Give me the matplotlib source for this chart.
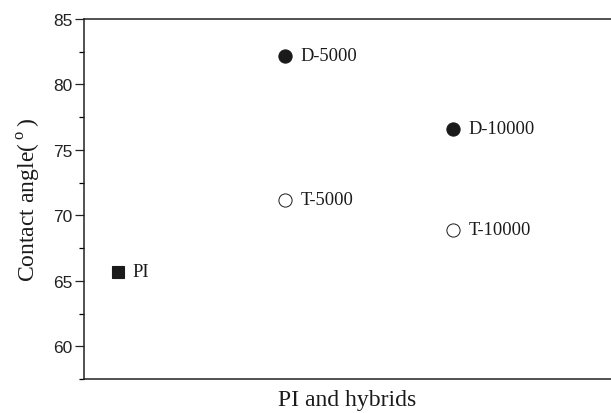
import matplotlib
matplotlib.use("Agg")
import matplotlib.pyplot as plt
from matplotlib.ticker import MultipleLocator, NullLocator

# Water contact angle of PI and its hybrids
samples = ["PI", "D-5000", "T-5000", "D-10000", "T-10000"]
positions = [1, 2, 2, 3, 3]
angles = [65.7, 82.2, 71.2, 76.6, 68.9]
markers = ["s", "o", "o", "o", "o"]
filled = [True, True, False, True, False]

plt.rcParams["mathtext.fontset"] = "custom"
plt.rcParams["mathtext.rm"] = "Liberation Serif"

fig = plt.figure(figsize=(6.11, 4.14), dpi=100)
ax = fig.add_axes([0.1375, 0.0821, 0.8625, 0.8696])

for name, x, y, m, f in zip(samples, positions, angles, markers, filled):
    ax.plot([x], [y], linestyle="none", marker=m,
            markersize=8.5 if m == "s" else 9.5,
            markerfacecolor="#1a1a1a" if f else "white",
            markeredgecolor="#1a1a1a", markeredgewidth=0.8 if f else 0.7)
    ax.annotate(name, (x, y), xytext=(11, 0), textcoords="offset points",
                va="center", ha="left", fontsize=13.3,
                family="Liberation Serif", color="#1a1a1a")

ax.set_xlim(0.8, 3.94)
ax.set_ylim(57.5, 85)
ax.yaxis.set_major_locator(MultipleLocator(5))
ax.yaxis.set_minor_locator(MultipleLocator(2.5))
ax.xaxis.set_major_locator(NullLocator())

for side in ("left", "bottom", "top"):
    ax.spines[side].set_linewidth(1.1)
    ax.spines[side].set_color("#222222")
ax.spines["right"].set_visible(False)

ax.tick_params(axis="y", which="major", direction="out", length=6.5,
               width=0.9, pad=2, labelsize=12.5, colors="#222222")
ax.tick_params(axis="y", which="minor", direction="out", length=3.5,
               width=0.9)
for lab in ax.get_yticklabels():
    lab.set_family("Liberation Sans")

ax.set_ylabel(r"Contact angle($\,^{\rm o}\,$)", family="Liberation Serif",
              fontsize=17, labelpad=7, color="#1a1a1a")
ax.set_xlabel("PI and hybrids", family="Liberation Serif", fontsize=17,
              labelpad=7, color="#1a1a1a")

fig.savefig("out.png", dpi=100)
